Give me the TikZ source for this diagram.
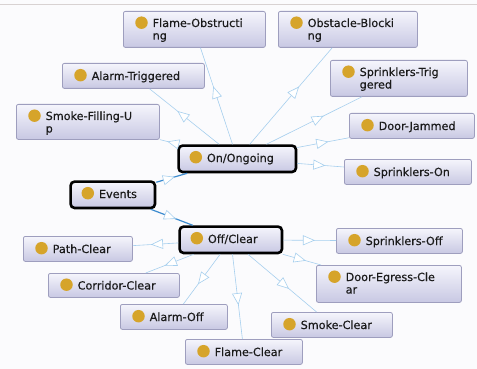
\documentclass[tikz,border=0pt]{standalone}
\usepackage{fontspec}
\setmainfont[FakeBold=0.35]{DejaVu Sans}
\usetikzlibrary{arrows.meta,decorations.markings}

\definecolor{bgcol}{HTML}{FBFBFD}
\definecolor{topline}{HTML}{D8D2D2}
\definecolor{boxtop}{HTML}{F5F5FC}
\definecolor{boxbot}{HTML}{C8C8E3}
\definecolor{boxline}{HTML}{9E9EBE}
\definecolor{dotcol}{HTML}{D6A42A}
\definecolor{edgelight}{HTML}{A6CFEE}
\definecolor{edgedark}{HTML}{3C8BCF}
\definecolor{txtcol}{HTML}{1A1A1A}

\tikzset{
  entity/.style={rectangle, rounded corners=2pt, draw=boxline, line width=0.8pt,
    top color=boxtop, bottom color=boxbot, inner sep=0pt, anchor=north west},
  focus/.style={rectangle, rounded corners=4pt, draw=black, line width=2.6pt,
    top color=boxtop, bottom color=boxbot, inner sep=0pt, anchor=north west},
  dot/.style={circle, fill=dotcol, minimum size=12.5pt, inner sep=0pt},
  lbl/.style={inner sep=0pt, anchor=base west, text=txtcol,
    font=\fontsize{11.2}{13}\selectfont},
  subedge/.style={draw=edgelight, line width=0.6pt,
    postaction={decorate},
    decoration={markings, mark=at position 0.6 with
      {\arrow{Triangle[open, fill=white, length=12pt, width=10pt, line width=0.6pt]}}}},
  rootedge/.style={draw=edgedark, line width=1.2pt,
    postaction={decorate},
    decoration={markings, mark=at position 0.6 with
      {\arrow[edgelight]{Triangle[open, fill=white, length=12pt, width=10pt, line width=0.6pt]}}}},
}

% one-line class box: name, style, left, top, right, bottom, text
\newcommand\oneline[7]{%
  \node[#2, minimum width={(#5)-(#3)}, minimum height={(#6)-(#4)}] (#1) at (#3,#4) {};
  \node[dot] (#1-dot) at ({#3+18.5},{(#4+#6)/2-0.3}) {};
  \node[lbl] (#1-t) at ({#3+29.5},{(#4+#6)/2+4.5}) {#7};
}
% two-line class box: name, left, top, right, bottom, first line, second line
\newcommand\twoline[7]{%
  \node[entity, minimum width={(#4)-(#2)}, minimum height={(#5)-(#3)}] (#1) at (#2,#3) {};
  \node[dot] (#1-dot) at ({#2+18.5},{#3+11.7}) {};
  \node[lbl] (#1-t) at ({#2+29.5},{#3+16}) {#6};
  \node[lbl] (#1-u) at ({#2+29.5},{#3+28.5}) {#7};
}

\begin{document}
\begin{tikzpicture}[x=1pt,y=-1pt]
  \useasboundingbox (0,0) rectangle (477,369);
  \fill[bgcol] (0,0) rectangle (477,369);
  \draw[topline, line width=1pt] (0,4.5) -- (477,4.5);

  % classes
  \twoline{flob}{123}{11}{265}{47}{Flame-Obstructi}{ng}
  \twoline{obbl}{278}{11}{417}{47}{Obstacle-Blocki}{ng}
  \oneline{altr}{entity}{62}{63}{204}{88}{Alarm-Triggered}
  \twoline{sptr}{330}{60}{467}{96}{Sprinklers-Trig}{gered}
  \twoline{smfu}{16}{104}{159}{139}{Smoke-Filling-U}{p}
  \oneline{doja}{entity}{349}{113}{474}{138}{Door-Jammed}
  \oneline{ongo}{focus}{177.3}{144.3}{294.7}{170.7}{On/Ongoing}
  \oneline{spon}{entity}{344}{159}{471}{184}{Sprinklers-On}
  \oneline{events}{focus}{69.3}{180.3}{153.7}{206.7}{Events}
  \oneline{offc}{focus}{178.3}{225.3}{280.7}{251.7}{Off/Clear}
  \oneline{spof}{entity}{336}{228}{462}{253}{Sprinklers-Off}
  \oneline{pacl}{entity}{23}{236}{132}{261}{Path-Clear}
  \twoline{decl}{316}{265}{461}{302}{Door-Egress-Cle}{ar}
  \oneline{cocl}{entity}{48}{273}{179}{297}{Corridor-Clear}
  \oneline{alof}{entity}{120}{304}{227}{329}{Alarm-Off}
  \oneline{smcl}{entity}{271}{312}{392}{337}{Smoke-Clear}
  \oneline{flcl}{entity}{185}{339}{302}{364}{Flame-Clear}

  % subclass links
  \draw[rootedge] (events) -- (ongo);
  \draw[rootedge] (events) -- (offc);
  \foreach \c in {flob,obbl,altr,sptr,smfu,doja,spon}
    \draw[subedge] (ongo) -- (\c);
  \foreach \c in {pacl,cocl,alof,flcl,smcl,decl,spof}
    \draw[subedge] (offc) -- (\c);
\end{tikzpicture}
\end{document}
